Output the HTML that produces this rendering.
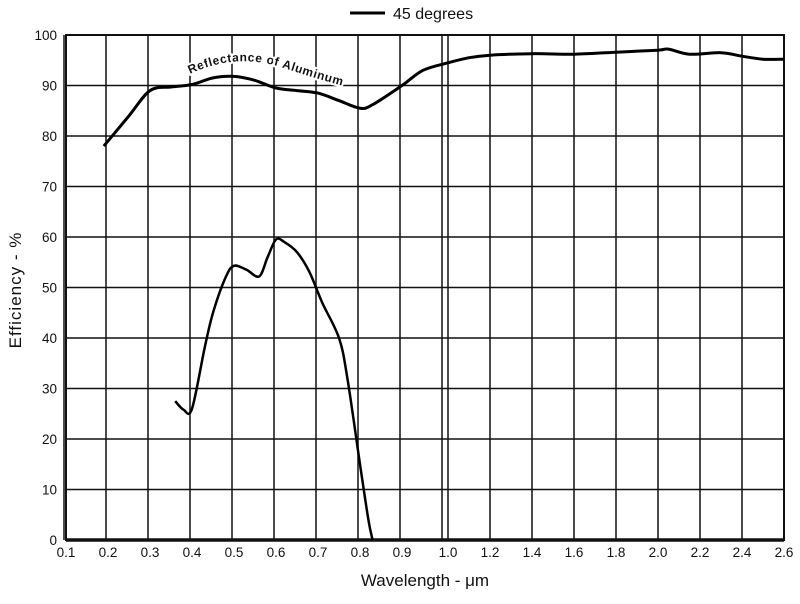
<!DOCTYPE html>
<html><head><meta charset="utf-8"><style>
body{margin:0;background:#fff;font-family:"Liberation Sans",sans-serif}
svg text{font-family:"Liberation Sans",sans-serif;fill:#111}
</style></head><body>
<svg id="c" width="800" height="599" xmlns="http://www.w3.org/2000/svg"></svg>
<script>
const xTicks1=[0.1,0.2,0.3,0.4,0.5,0.6,0.7,0.8,0.9,1.0];
const xTicks2=[1.0,1.2,1.4,1.6,1.8,2.0,2.2,2.4,2.6];
const yTicks=[0,10,20,30,40,50,60,70,80,90,100];
const alWave=[0.19,0.25,0.3,0.35,0.4,0.45,0.5,0.55,0.6,0.65,0.7,0.75,0.8,0.83,0.9,0.95,1.0,1.1,1.2,1.4,1.6,1.8,2.0,2.05,2.15,2.3,2.4,2.5,2.6];
const alRefl=[78,84,89,89.7,90.2,91.5,91.8,91,89.5,89,88.5,87,85.5,86.2,90,93,94.5,95.5,96,96.3,96.2,96.6,97,97.2,96.2,96.5,95.8,95.2,95.2];
const effWave=[0.36,0.38,0.4,0.43,0.45,0.48,0.5,0.53,0.56,0.58,0.6,0.62,0.65,0.68,0.71,0.75,0.77,0.8,0.82,0.83];
const effVal=[27.5,25.8,26,38,45,52,54.3,53.5,52.2,56,59.5,59,57,53,47,40,32,15,4,0];
const L=66,R=784,T=35,B=540;
function X(w,seg){ if(seg===1||(seg===undefined&&w<1.0)) return 66+(w-0.1)*420; return 448+(w-1.0)*210; }
function Y(v){return B-(v/100)*(B-T);}
const svg=document.getElementById('c');const NS='http://www.w3.org/2000/svg';
function el(t,a,p){const e=document.createElementNS(NS,t);for(const k in a)e.setAttribute(k,a[k]);(p||svg).appendChild(e);return e;}
const g=el('g',{});


yTicks.forEach(v=>{el('line',{x1:L,x2:R,y1:Y(v),y2:Y(v),stroke:'#111','stroke-width':1.5},g);
 const t=el('text',{x:57,y:Y(v)+5,'text-anchor':'end','font-size':13.5});t.textContent=v;
 
 });
xTicks1.forEach(w=>{el('line',{x1:X(w,1)-2,x2:X(w,1)-2,y1:T,y2:B,stroke:'#111','stroke-width':1.5},g);
 if(w<1.0){const t=el('text',{x:X(w,1),y:557,'text-anchor':'middle','font-size':13.5});t.textContent=w.toFixed(1);
 
 }});
xTicks2.forEach(w=>{el('line',{x1:X(w,2),x2:X(w,2),y1:T,y2:B,stroke:'#111','stroke-width':1.5},g);
 const t=el('text',{x:X(w,2),y:557,'text-anchor':'middle','font-size':13.5});t.textContent=w.toFixed(1);
 
 });
const fr=el('rect',{x:L,y:T,width:R-L,height:B-T,fill:'none',stroke:'#111','stroke-width':2});


el('line',{x1:L,x2:R,y1:B,y2:B,stroke:'#111','stroke-width':3.5});
function path(ws,vs){
 const p=ws.map((w,i)=>[X(w),Y(vs[i])]);
 let d='M'+p[0][0].toFixed(1)+','+p[0][1].toFixed(1);
 for(let i=0;i<p.length-1;i++){
  const p0=p[Math.max(0,i-1)],p1=p[i],p2=p[i+1],p3=p[Math.min(p.length-1,i+2)];
  const c1=[p1[0]+(p2[0]-p0[0])/6,p1[1]+(p2[1]-p0[1])/6];
  const c2=[p2[0]-(p3[0]-p1[0])/6,p2[1]-(p3[1]-p1[1])/6];
  d+=' C'+c1.map(n=>n.toFixed(1)).join(',')+' '+c2.map(n=>n.toFixed(1)).join(',')+' '+p2.map(n=>n.toFixed(1)).join(',');
 }
 return d;}
el('path',{id:'lp',d:'M190,74 Q236,52 284,68 T368,92',fill:'none'});
const lt=el('text',{'font-size':12,'font-weight':'bold',stroke:'#fff','stroke-width':4,'paint-order':'stroke','letter-spacing':0.6});


const tp=el('textPath',{href:'#lp'},lt);tp.textContent='Reflectance  of  Aluminum';
const p1=el('path',{d:path(alWave,alRefl),fill:'none',stroke:'#000','stroke-width':3,'stroke-linejoin':'round'});


const p2=el('path',{d:path(effWave,effVal),fill:'none',stroke:'#000','stroke-width':2.5,'stroke-linejoin':'round'});


const lg=el('g',{});


el('line',{x1:350,x2:385,y1:13,y2:13,stroke:'#000','stroke-width':3},lg);
const lgt=el('text',{x:393,y:19,'font-size':16},lg);lgt.textContent='45 degrees';
const xt=el('text',{x:425,y:586,'text-anchor':'middle','font-size':17});xt.textContent='Wavelength - \u03bcm';


const yt=el('text',{x:0,y:0,'text-anchor':'middle','font-size':17,transform:'translate(21,290) rotate(-90)','letter-spacing':1});yt.textContent='Efficiency - %';


</script>
</body></html>
